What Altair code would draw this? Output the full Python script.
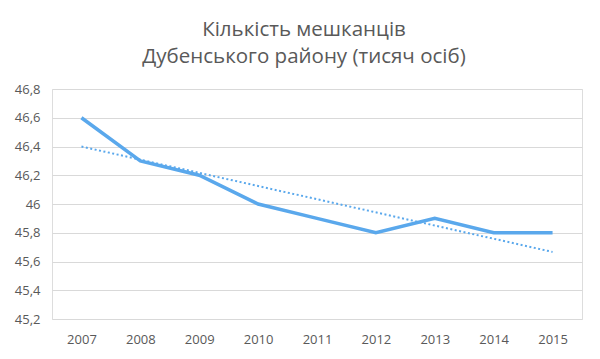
import altair as alt
import pandas as pd

years = [2007, 2008, 2009, 2010, 2011, 2012, 2013, 2014, 2015]
values = [46.6, 46.3, 46.2, 46.0, 45.9, 45.8, 45.9, 45.8, 45.8]
title_lines = ["Кількість мешканців", "Дубенського району (тисяч осіб)"]
y_ticks = [45.2, 45.4, 45.6, 45.8, 46.0, 46.2, 46.4, 46.6, 46.8]

df = pd.DataFrame({"year": years, "value": values})

color = "#5AA8EC"
text_color = "#595959"
font = "Open Sans"

x_enc = alt.X("year:O", scale=alt.Scale(type="point", padding=0.5),
              axis=alt.Axis(title=None, labelAngle=0, domain=False, ticks=False,
                            labelPadding=14, labelFontSize=13, labelColor=text_color,
                            labelFont=font, grid=False, labelOverlap=False))
y_enc = alt.Y("value:Q", scale=alt.Scale(domain=[45.2, 46.8], nice=False, zero=False),
              axis=alt.Axis(title=None, values=y_ticks, domain=False, ticks=False,
                            labelPadding=12, labelFontSize=13, labelColor=text_color,
                            labelFont=font, grid=True, gridColor="#D9D9D9",
                            labelOverlap=False,
                            labelExpr="replace(toString(round(datum.value*10)/10), '.', ',')"))

line = alt.Chart(df).mark_line(color=color, strokeWidth=3.5).encode(x=x_enc, y=y_enc)

trend = (alt.Chart(df)
         .transform_regression("year", "value")
         .mark_line(color=color, strokeWidth=2, strokeDash=[2, 2.5])
         .encode(x=x_enc, y=y_enc))

chart = (alt.layer(trend, line)
         .properties(width=530, height=230,
                     autosize=alt.AutoSizeParams(type="none"),
                     padding={"left": 44, "top": 81, "right": 10, "bottom": 32},
                     title=alt.TitleParams(text=title_lines, fontSize=20.5, font=font,
                                           fontWeight="normal", color=text_color,
                                           anchor="middle", offset=16, lineHeight=27,
                                           dx=-13))
         .configure_view(stroke=None)
         .configure(background="white"))

chart.save("out.html", embed_options={"renderer": "svg", "actions": False})
